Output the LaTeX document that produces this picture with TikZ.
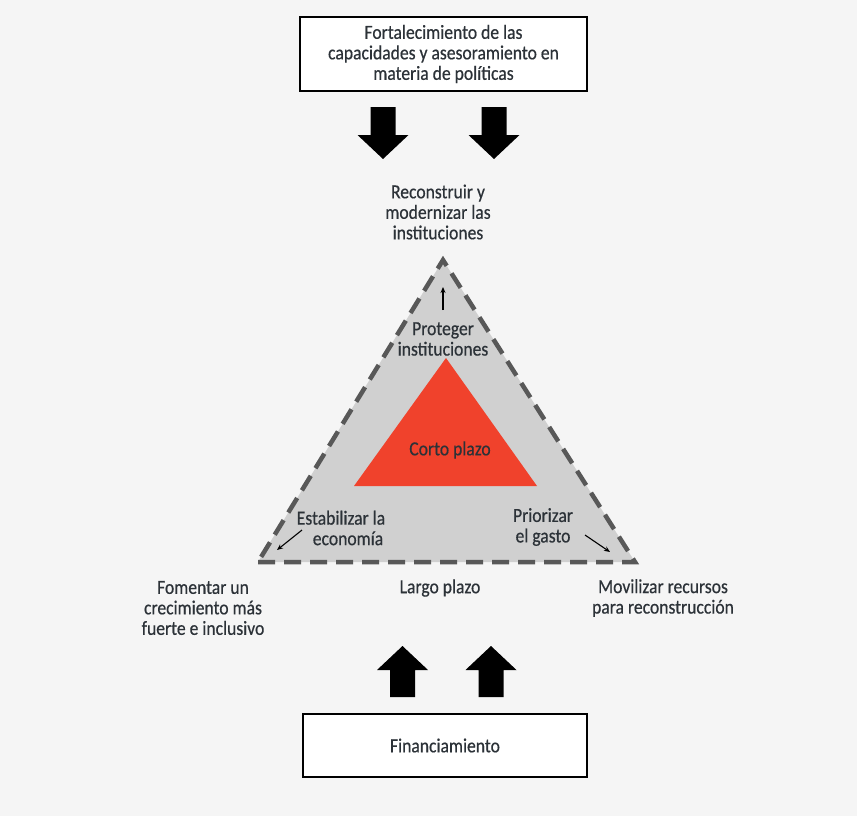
\documentclass[tikz,border=0pt]{standalone}
\usepackage{fontspec}
\setmainfont[FakeStretch=0.88,FakeBold=0.5]{Carlito}
\usetikzlibrary{arrows.meta}
\definecolor{txt}{RGB}{44,50,56}
\definecolor{trigray}{RGB}{208,208,208}
\definecolor{dashgray}{RGB}{88,88,88}
\definecolor{redtri}{RGB}{240,66,44}
\definecolor{bg}{RGB}{245,245,245}
\begin{document}
\begin{tikzpicture}[x=1pt,y=-1pt,
  lbl/.style={text=txt,align=center,inner sep=0pt,font=\fontsize{20}{20.5}\selectfont},
  boxnode/.style={draw=black,line width=1.6pt,fill=white,text=txt,align=center,inner sep=0pt,font=\fontsize{20}{20.5}\selectfont},
  thin arrow/.style={draw=black,line width=1.1pt,-{Stealth[length=6pt,width=5pt]}},
  blockarrow/.style={fill=black}]
\useasboundingbox (0,0) rectangle (857,816);
\fill[bg] (0,0) rectangle (857,816);
% boxes
\node[boxnode,minimum width=287pt,minimum height=74pt] (top) at (443.5,54) {Fortalecimiento de las\\capacidades y asesoramiento en\\materia de políticas};
\node[boxnode,minimum width=284pt,minimum height=63pt] (fin) at (445,745.5) {Financiamiento};
% block arrows down
\foreach \ax/\nm in {383/da1,494/da2}{
  \fill[blockarrow] ({\ax-12.5},107) -- ({\ax+12.5},107) -- ({\ax+12.5},135) -- ({\ax+25.5},135)
     -- (\ax,159) -- ({\ax-25.5},135) -- ({\ax-12.5},135) -- cycle;
}
% block arrows up
\foreach \ax/\nm in {402.5/ua1,491/ua2}{
  \fill[blockarrow] ({\ax-12.5},697) -- ({\ax+12.5},697) -- ({\ax+12.5},670) -- ({\ax+25.5},670)
     -- (\ax,646) -- ({\ax-25.5},670) -- ({\ax-12.5},670) -- cycle;
}
% triangles
\coordinate (A) at (443,260);
\coordinate (B) at (258,562);
\coordinate (C) at (635,562);
\fill[trigray] (A) -- (B) -- (C) -- cycle;
\draw[dashgray,line width=4.5pt,dash pattern=on 17pt off 9pt,line join=miter] (B) -- (C) -- (A) -- cycle;
\fill[redtri] (446,358) -- (354,486) -- (537,486) -- cycle;
% labels
\node[lbl] (reco) at (438,212) {Reconstruir y\\modernizar las\\instituciones};
\node[lbl] (prot) at (443,339) {Proteger\\instituciones};
\node[lbl] (corto) at (450,450) {Corto plazo};
\node[lbl] (estab) at (341,528) {Estabilizar la\\\hspace*{14pt}economía};
\node[lbl] (prior) at (543,527) {Priorizar\\el gasto};
\node[lbl] (fom) at (203,608) {Fomentar un\\crecimiento más\\fuerte e inclusivo};
\node[lbl] (largo) at (440,588) {Largo plazo};
\node[lbl] (movi) at (663,598) {Movilizar recursos\\para reconstrucción};
% small arrows
\coordinate (t0) at (443,310);
\coordinate (t1) at (443,287);
\coordinate (l0) at (302,530);
\coordinate (l1) at (277,550);
\coordinate (r0) at (585,535);
\coordinate (r1) at (610,552);
\draw[thin arrow] (t0) -- (t1);
\draw[thin arrow] (l0) -- (l1);
\draw[thin arrow] (r0) -- (r1);
\end{tikzpicture}
\end{document}
